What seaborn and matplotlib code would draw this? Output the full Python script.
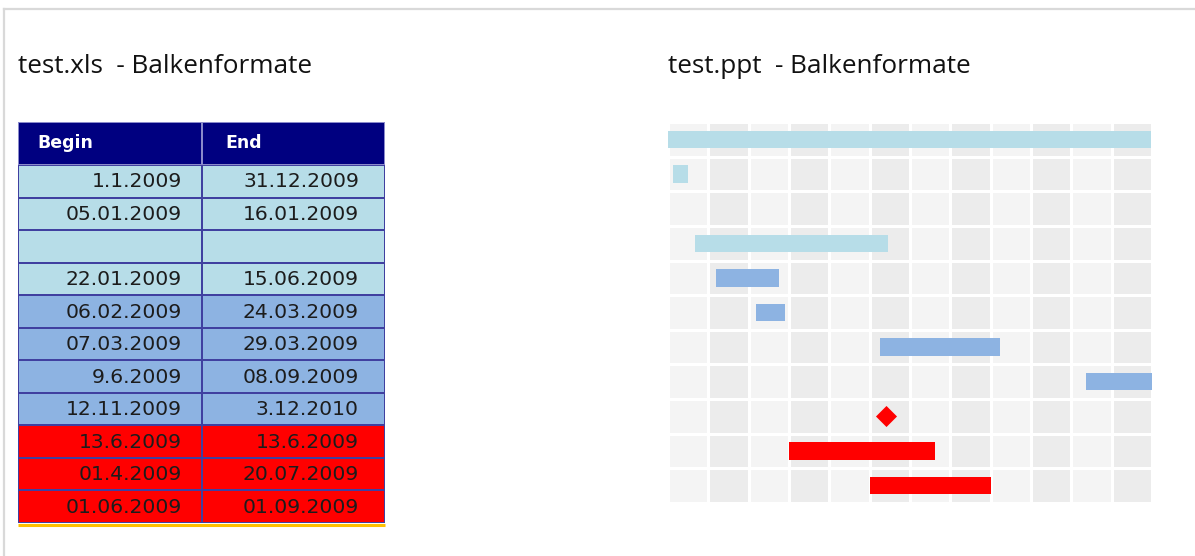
import numpy as np
import pandas as pd
import seaborn as sns
import matplotlib
matplotlib.use("Agg")
import matplotlib.pyplot as plt
from matplotlib.colors import ListedColormap
from matplotlib.lines import Line2D
import calendar

# ---------------- data ----------------
titles = ["test.xls  - Balkenformate", "test.ppt  - Balkenformate"]
col_headers = ["Begin", "End"]
begin_dates = ["1.1.2009", "05.01.2009", "", "22.01.2009", "06.02.2009", "07.03.2009",
               "9.6.2009", "12.11.2009", "13.6.2009", "01.4.2009", "01.06.2009"]
end_dates = ["31.12.2009", "16.01.2009", "", "15.06.2009", "24.03.2009", "29.03.2009",
             "08.09.2009", "3.12.2010", "13.6.2009", "20.07.2009", "01.09.2009"]
row_format = ["light", "light", "light", "light", "mid", "mid", "mid", "mid",
              "red", "red", "red"]
months = ["Jan", "Feb", "Mar", "Apr", "May", "Jun", "Jul", "Aug", "Sep", "Oct", "Nov", "Dec"]
chart_year = 2009

# ---------------- styles ----------------
format_colors = {"light": "#b7dde8", "mid": "#8db3e2", "red": "#ff0000"}
format_codes = {"light": 0, "mid": 1, "red": 2}

W, H = 1195, 556
fig = plt.figure(figsize=(W / 100, H / 100), dpi=100)


def px_axes(x0, y0, x1, y1):
    return fig.add_axes([x0 / W, 1 - y1 / H, (x1 - x0) / W, (y1 - y0) / H])


# outer frame
fig.add_artist(Line2D([4 / W, 1], [1 - 9 / H, 1 - 9 / H], color="#d9d9d9", lw=1.6))
fig.add_artist(Line2D([4 / W, 4 / W], [0, 1 - 9 / H], color="#d9d9d9", lw=1.6))

# titles
fig.text(18 / W, 1 - 73 / H, titles[0], fontsize=18.8, family="Open Sans", va="baseline",
         ha="left", color="#111111")
fig.text(668 / W, 1 - 73 / H, titles[1], fontsize=18.8, family="Open Sans", va="baseline",
         ha="left", color="#111111")

# ---------------- left: table ----------------
ax_h = px_axes(18, 122, 385, 165)
sns.heatmap(np.zeros((1, 2)), ax=ax_h, cmap=ListedColormap(["#000080"]), vmin=0, vmax=1,
            cbar=False, linewidths=1.2, linecolor="#8a8acb", xticklabels=False, yticklabels=False)
ax_h.text(0.105, 0.5, col_headers[0], color="white", fontsize=12.5, fontweight="bold",
          family="DejaVu Sans", ha="left", va="center")
ax_h.text(1.13, 0.5, col_headers[1], color="white", fontsize=12.5, fontweight="bold",
          family="DejaVu Sans", ha="left", va="center")

ax_t = px_axes(18, 165, 385, 523)
codes = np.array([[format_codes[f], format_codes[f]] for f in row_format], dtype=float)
cmap_t = ListedColormap([format_colors["light"], format_colors["mid"], format_colors["red"]])
sns.heatmap(codes, ax=ax_t, cmap=cmap_t, vmin=-0.5, vmax=2.5, cbar=False,
            linewidths=1.1, linecolor="#4040a0", xticklabels=False, yticklabels=False)
for i, (b, e) in enumerate(zip(begin_dates, end_dates)):
    ax_t.text(0.894, i + 0.52, b, ha="right", va="center", fontsize=14.6,
              family="DejaVu Sans", color="#1c1c1c")
    ax_t.text(1.858, i + 0.52, e, ha="right", va="center", fontsize=14.6,
              family="DejaVu Sans", color="#1c1c1c")
ax_t.plot([0, 2], [11.07, 11.07], color="#ffc000", lw=2.2, clip_on=False, solid_capstyle="butt")

# ---------------- right: gantt ----------------
ax_g = px_axes(668, 122, 1152, 503)
n_rows = len(begin_dates)
pattern = np.tile(np.arange(len(months)) % 2, (n_rows, 1)).astype(float)
sns.heatmap(pattern, ax=ax_g, cmap=ListedColormap(["#f4f4f4", "#ececec"]), vmin=0, vmax=1,
            cbar=False, linewidths=1.0, linecolor="white", xticklabels=False, yticklabels=False)


def to_pos(s):
    d, m, y = [int(v) for v in s.split(".")]
    if y > chart_year:
        return float(len(months))
    dim = calendar.monthrange(y, m)[1]
    return (m - 1) + (d - 1) / dim


for i, (b, e, f) in enumerate(zip(begin_dates, end_dates, row_format)):
    if not b:
        continue
    x0, x1 = to_pos(b), to_pos(e)
    if b == e:
        ax_g.scatter([x0], [i + 0.5], marker="D", s=115, color=format_colors[f],
                     linewidths=0, zorder=3)
    else:
        ax_g.barh(i + 0.5, x1 - x0, left=x0, height=0.5, color=format_colors[f],
                  edgecolor="none", zorder=3)
ax_g.set_xlim(0, 12)
ax_g.set_ylim(n_rows, 0)

fig.savefig("out.png", dpi=100)
